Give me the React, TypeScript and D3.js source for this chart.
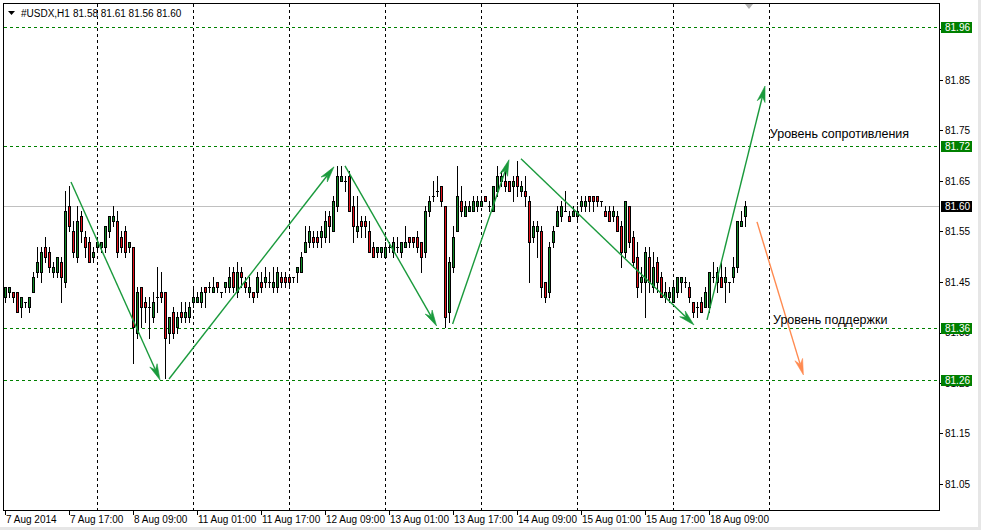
import React from 'react';
import * as d3 from 'd3';

const symbolLabel = '#USDX,H1';
const lastQuote = ['81.58', '81.61', '81.56', '81.60'];

const opens = [
  81.42, 81.43, 81.43, 81.43, 81.40, 81.41, 81.40, 81.43, 81.47, 81.47,
  81.52, 81.51, 81.47, 81.47, 81.49, 81.45, 81.60, 81.55, 81.50, 81.58,
  81.54, 81.53, 81.50, 81.52, 81.52, 81.52, 81.55, 81.57, 81.57, 81.54,
  81.55, 81.52, 81.52, 81.35, 81.44, 81.41, 81.40, 81.38, 81.42, 81.43,
  81.43, 81.35, 81.39, 81.36, 81.39, 81.38, 81.38, 81.41, 81.41, 81.41,
  81.44, 81.44, 81.43, 81.45, 81.43, 81.44, 81.44, 81.47, 81.43, 81.47,
  81.45, 81.43, 81.43, 81.43, 81.45, 81.45, 81.45, 81.44, 81.44, 81.46,
  81.46, 81.46, 81.46, 81.47, 81.47, 81.51, 81.53, 81.54, 81.54, 81.54,
  81.54, 81.58, 81.55, 81.60, 81.65, 81.65, 81.66, 81.60, 81.55, 81.57,
  81.57, 81.55, 81.52, 81.51, 81.51, 81.50, 81.52, 81.51, 81.52, 81.51,
  81.52, 81.54, 81.54, 81.54, 81.53, 81.51, 81.59, 81.62, 81.63, 81.64,
  81.60, 81.39, 81.48, 81.55, 81.61, 81.58, 81.59, 81.59, 81.60, 81.60,
  81.62, 81.60, 81.59, 81.63, 81.65, 81.65, 81.65, 81.64, 81.66, 81.63,
  81.63, 81.61, 81.54, 81.55, 81.55, 81.45, 81.43, 81.53, 81.56, 81.58,
  81.59, 81.58, 81.58, 81.58, 81.60, 81.60, 81.62, 81.62, 81.62, 81.61,
  81.59, 81.59, 81.58, 81.58, 81.56, 81.51, 81.60, 81.54, 81.50, 81.45,
  81.45, 81.50, 81.44, 81.49, 81.46, 81.42, 81.42, 81.41, 81.43, 81.45,
  81.45, 81.44, 81.41, 81.40, 81.41, 81.40, 81.40, 81.46, 81.45, 81.46,
  81.45, 81.45, 81.46, 81.48, 81.56, 81.58,
];
const highs = [
  81.44, 81.44, 81.43, 81.43, 81.42, 81.41, 81.42, 81.47, 81.52, 81.52,
  81.54, 81.52, 81.49, 81.50, 81.50, 81.63, 81.64, 81.57, 81.60, 81.59,
  81.55, 81.54, 81.52, 81.54, 81.53, 81.56, 81.58, 81.60, 81.59, 81.55,
  81.56, 81.53, 81.52, 81.44, 81.44, 81.42, 81.42, 81.43, 81.48, 81.47,
  81.43, 81.38, 81.40, 81.39, 81.41, 81.41, 81.41, 81.44, 81.43, 81.44,
  81.44, 81.45, 81.46, 81.45, 81.43, 81.45, 81.48, 81.48, 81.49, 81.48,
  81.46, 81.46, 81.43, 81.47, 81.47, 81.48, 81.47, 81.48, 81.48, 81.47,
  81.47, 81.46, 81.46, 81.48, 81.51, 81.56, 81.56, 81.55, 81.55, 81.56,
  81.59, 81.59, 81.62, 81.68, 81.68, 81.66, 81.67, 81.62, 81.62, 81.58,
  81.58, 81.57, 81.53, 81.52, 81.52, 81.53, 81.53, 81.54, 81.54, 81.53,
  81.56, 81.54, 81.54, 81.55, 81.53, 81.60, 81.62, 81.65, 81.66, 81.64,
  81.60, 81.50, 81.56, 81.68, 81.64, 81.61, 81.61, 81.62, 81.62, 81.62,
  81.62, 81.61, 81.64, 81.68, 81.67, 81.67, 81.65, 81.66, 81.69, 81.65,
  81.66, 81.62, 81.57, 81.57, 81.56, 81.45, 81.53, 81.56, 81.60, 81.61,
  81.63, 81.59, 81.60, 81.60, 81.62, 81.62, 81.62, 81.62, 81.62, 81.61,
  81.60, 81.60, 81.60, 81.59, 81.57, 81.61, 81.60, 81.55, 81.53, 81.48,
  81.52, 81.52, 81.51, 81.50, 81.47, 81.45, 81.44, 81.45, 81.46, 81.46,
  81.46, 81.45, 81.41, 81.41, 81.42, 81.44, 81.47, 81.49, 81.48, 81.49,
  81.48, 81.45, 81.50, 81.57, 81.59, 81.61,
];
const lows = [
  81.41, 81.42, 81.41, 81.39, 81.38, 81.40, 81.39, 81.43, 81.46, 81.45,
  81.49, 81.47, 81.46, 81.46, 81.41, 81.44, 81.55, 81.50, 81.49, 81.53,
  81.50, 81.49, 81.49, 81.51, 81.51, 81.51, 81.54, 81.56, 81.50, 81.51,
  81.50, 81.51, 81.29, 81.34, 81.36, 81.37, 81.34, 81.37, 81.39, 81.41,
  81.26, 81.33, 81.34, 81.35, 81.37, 81.37, 81.37, 81.40, 81.41, 81.40,
  81.40, 81.43, 81.43, 81.43, 81.42, 81.43, 81.43, 81.43, 81.42, 81.44,
  81.43, 81.42, 81.41, 81.42, 81.43, 81.44, 81.44, 81.43, 81.43, 81.44,
  81.44, 81.44, 81.45, 81.45, 81.47, 81.51, 81.52, 81.52, 81.52, 81.52,
  81.53, 81.53, 81.55, 81.59, 81.65, 81.63, 81.59, 81.53, 81.54, 81.54,
  81.54, 81.51, 81.50, 81.50, 81.50, 81.50, 81.51, 81.50, 81.51, 81.50,
  81.52, 81.52, 81.52, 81.51, 81.47, 81.50, 81.58, 81.61, 81.62, 81.60,
  81.36, 81.37, 81.47, 81.55, 81.58, 81.58, 81.59, 81.59, 81.59, 81.60,
  81.61, 81.59, 81.59, 81.62, 81.64, 81.63, 81.63, 81.61, 81.62, 81.62,
  81.60, 81.45, 81.53, 81.50, 81.42, 81.41, 81.42, 81.52, 81.56, 81.57,
  81.59, 81.57, 81.58, 81.57, 81.59, 81.59, 81.59, 81.59, 81.60, 81.60,
  81.58, 81.57, 81.57, 81.55, 81.48, 81.50, 81.52, 81.48, 81.42, 81.43,
  81.38, 81.43, 81.43, 81.43, 81.42, 81.41, 81.41, 81.41, 81.42, 81.43,
  81.44, 81.41, 81.38, 81.38, 81.39, 81.40, 81.39, 81.45, 81.43, 81.44,
  81.41, 81.43, 81.45, 81.47, 81.56, 81.56,
];
const closes = [
  81.44, 81.44, 81.42, 81.39, 81.42, 81.41, 81.42, 81.46, 81.49, 81.51,
  81.50, 81.48, 81.48, 81.50, 81.46, 81.59, 81.56, 81.51, 81.57, 81.55,
  81.52, 81.49, 81.51, 81.53, 81.53, 81.56, 81.58, 81.58, 81.51, 81.52,
  81.51, 81.53, 81.36, 81.43, 81.40, 81.40, 81.40, 81.41, 81.42, 81.42,
  81.34, 81.38, 81.35, 81.38, 81.38, 81.39, 81.40, 81.42, 81.42, 81.43,
  81.43, 81.44, 81.44, 81.44, 81.43, 81.45, 81.46, 81.44, 81.47, 81.46,
  81.44, 81.44, 81.42, 81.46, 81.44, 81.46, 81.45, 81.45, 81.47, 81.45,
  81.45, 81.45, 81.46, 81.48, 81.50, 81.53, 81.55, 81.53, 81.53, 81.55,
  81.57, 81.56, 81.61, 81.66, 81.66, 81.65, 81.59, 81.56, 81.56, 81.56,
  81.56, 81.51, 81.50, 81.52, 81.52, 81.52, 81.52, 81.53, 81.52, 81.53,
  81.53, 81.53, 81.53, 81.52, 81.50, 81.59, 81.61, 81.62, 81.63, 81.61,
  81.38, 81.49, 81.54, 81.62, 81.59, 81.60, 81.60, 81.61, 81.61, 81.61,
  81.61, 81.60, 81.64, 81.66, 81.66, 81.64, 81.63, 81.65, 81.64, 81.64,
  81.62, 81.53, 81.56, 81.56, 81.44, 81.42, 81.52, 81.55, 81.59, 81.60,
  81.59, 81.57, 81.59, 81.59, 81.61, 81.61, 81.61, 81.61, 81.61, 81.61,
  81.58, 81.57, 81.59, 81.55, 81.51, 81.61, 81.53, 81.49, 81.44, 81.46,
  81.51, 81.45, 81.48, 81.45, 81.42, 81.43, 81.43, 81.44, 81.46, 81.46,
  81.45, 81.42, 81.39, 81.40, 81.39, 81.43, 81.47, 81.46, 81.47, 81.44,
  81.46, 81.45, 81.48, 81.57, 81.57, 81.60,
];

const timeLabels = [
  '7 Aug 2014', '7 Aug 17:00', '8 Aug 09:00', '11 Aug 01:00', '11 Aug 17:00', '12 Aug 09:00',
  '13 Aug 01:00', '13 Aug 17:00', '14 Aug 09:00', '15 Aug 01:00', '15 Aug 17:00', '18 Aug 09:00',
];
const timeLabelBars = [0, 16, 32, 48, 64, 80, 96, 112, 128, 144, 160, 176];
const gridBars = [23, 47, 71, 95, 119, 143, 167, 191];
const priceTicks = [81.95, 81.85, 81.75, 81.65, 81.55, 81.45, 81.35, 81.25, 81.15, 81.05];
const priceTickLabels = ['81.95', '81.85', '81.75', '81.65', '81.55', '81.45', '81.35', '81.25', '81.15', '81.05'];
const levelPrices = [81.954, 81.719, 81.359, 81.255];
const levelLabels = ['81.96', '81.72', '81.36', '81.26'];
const bidPrice = 81.6;
const bidLabel = '81.60';

// arrows: [startBar, startPrice, endBar, endPrice]
const greenArrows = [
  [16.5, 81.648, 38.75, 81.256],
  [41.0, 81.258, 82.25, 81.678],
  [85.0, 81.68, 107.9, 81.363],
  [111.9, 81.367, 126.0, 81.692],
  [129.0, 81.694, 172.25, 81.365],
  [175.5, 81.375, 190.0, 81.838],
];
const orangeArrows = [[188.0, 81.569, 199.6, 81.266]];

const annotations = [
  { text: 'Уровень сопротивления', bar: 191.2, price: 81.735 },
  { text: 'Уровень поддержки', bar: 192.0, price: 81.366 },
];

const FONT = '"Liberation Sans", Arial, sans-serif';

function arrowPaths(x0: number, y0: number, x1: number, y1: number) {
  const dx = x1 - x0, dy = y1 - y0;
  const len = Math.hypot(dx, dy);
  const ux = dx / len, uy = dy / len;
  const nx = -uy, ny = ux;
  const L = 16, w = 4, N = 11;
  const bx = x1 - ux * L, by = y1 - uy * L;
  const mx = x1 - ux * N, my = y1 - uy * N;
  const head = `M${x1},${y1}L${bx + nx * w},${by + ny * w}L${mx},${my}L${bx - nx * w},${by - ny * w}Z`;
  const line = `M${x0},${y0}L${mx},${my}`;
  return { head, line };
}

export default function App() {
  const W = 981, H = 530;
  const plotL = 3.5, plotT = 3.5, plotR = 939.5, plotB = 510.5;
  const x = d3.scaleLinear().domain([0, 233]).range([5, 937]);
  const y = d3.scaleLinear().domain([81.05, 81.85]).range([484, 80]);

  const candles = d3.range(opens.length).map((i) => ({
    o: opens[i], h: highs[i], l: lows[i], c: closes[i], i,
  }));

  const green = '#1a9a3c';
  const orange = '#ff8a50';
  const levelColor = '#008000';

  return (
    <svg
      width={W}
      height={H}
      viewBox={`0 0 ${W} ${H}`}
      style={{ position: 'absolute', left: 0, top: 0, background: '#fff' }}
      fontFamily={FONT}
    >
      <rect x={0} y={0} width={W} height={H} fill="#fff" />
      <rect x={978} y={0} width={3} height={H} fill="#e6e6e6" />
      <rect x={0} y={527} width={W} height={3} fill="#e6e6e6" />

      {/* vertical grid */}
      <g shapeRendering="crispEdges">
        {gridBars.map((b) => (
          <line key={b} x1={Math.round(x(b)) + 0.5} x2={Math.round(x(b)) + 0.5} y1={plotT} y2={plotB}
            stroke="#000" strokeDasharray="3,3" strokeWidth={1} />
        ))}
      </g>

      {/* level lines */}
      <g shapeRendering="crispEdges">
        {levelPrices.map((p, k) => (
          <line key={k} x1={plotL} x2={plotR} y1={Math.round(y(p)) + 0.5} y2={Math.round(y(p)) + 0.5}
            stroke={levelColor} strokeDasharray="3,3" strokeWidth={1} />
        ))}
        <line x1={plotL} x2={plotR} y1={Math.round(y(bidPrice)) + 0.5} y2={Math.round(y(bidPrice)) + 0.5}
          stroke="#c0c0c0" strokeWidth={1} />
      </g>

      {/* candles */}
      <g shapeRendering="crispEdges">
        {candles.map((d) => {
          const cx = Math.round(x(d.i));
          const top = Math.round(y(Math.max(d.o, d.c)));
          const bot = Math.round(y(Math.min(d.o, d.c)));
          const hy = Math.round(y(d.h));
          const ly = Math.round(y(d.l));
          const fill = d.c > d.o ? '#128a26' : d.c < d.o ? '#e3121a' : '#000';
          return (
            <g key={d.i}>
              <rect x={cx} y={hy} width={1} height={ly - hy + 1} fill="#000" />
              <rect x={cx - 1} y={top} width={3} height={bot - top + 1} fill="#000" />
              {bot - top - 1 > 0 && (
                <rect x={cx} y={top + 1} width={1} height={bot - top - 1} fill={fill} />
              )}
            </g>
          );
        })}
      </g>

      {/* arrows */}
      <g>
        {greenArrows.map((a, k) => {
          const p = arrowPaths(x(a[0]), y(a[1]), x(a[2]), y(a[3]));
          return (
            <g key={k}>
              <path d={p.line} stroke={green} strokeWidth={1.4} fill="none" />
              <path d={p.head} fill={green} stroke={green} strokeWidth={0.6} />
            </g>
          );
        })}
        {orangeArrows.map((a, k) => {
          const p = arrowPaths(x(a[0]), y(a[1]), x(a[2]), y(a[3]));
          return (
            <g key={k}>
              <path d={p.line} stroke={orange} strokeWidth={1.4} fill="none" />
              <path d={p.head} fill={orange} stroke={orange} strokeWidth={0.6} />
            </g>
          );
        })}
      </g>

      {/* annotations */}
      {annotations.map((a, k) => (
        <text key={k} x={x(a.bar)} y={y(a.price)} fontSize={12.5} fill="#000">{a.text}</text>
      ))}

      {/* frame */}
      <rect x={plotL} y={plotT} width={plotR - plotL} height={plotB - plotT} fill="none" stroke="#000"
        strokeWidth={1} shapeRendering="crispEdges" />

      {/* shift marker */}
      <path d="M745,4L753,4L749,9Z" fill="#b0b0b0" />

      {/* header */}
      <path d="M8,11L15,11L11.5,15Z" fill="#000" />
      <text x={21} y={16.5} fontSize={10} fill="#000">{symbolLabel}</text>
      <text x={73} y={16.5} fontSize={10} fill="#000">{lastQuote.join(' ')}</text>

      {/* price axis */}
      <g fontSize={10} fill="#000">
        {priceTicks.map((p, k) => (
          <g key={k}>
            <line x1={940} x2={943} y1={Math.round(y(p)) + 0.5} y2={Math.round(y(p)) + 0.5} stroke="#000"
              shapeRendering="crispEdges" />
            <text x={945} y={y(p) + 3.5}>{priceTickLabels[k]}</text>
          </g>
        ))}
      </g>
      {levelPrices.map((p, k) => (
        <g key={k}>
          <rect x={941} y={Math.round(y(p)) - 5} width={31} height={11} fill={levelColor} shapeRendering="crispEdges" />
          <text x={945} y={Math.round(y(p)) + 4} fontSize={10} fill="#fff">{levelLabels[k]}</text>
        </g>
      ))}
      <rect x={941} y={Math.round(y(bidPrice)) - 5} width={31} height={11} fill="#000" shapeRendering="crispEdges" />
      <text x={945} y={Math.round(y(bidPrice)) + 4} fontSize={10} fill="#fff">{bidLabel}</text>

      {/* time axis */}
      <g fontSize={10} fill="#000">
        {timeLabelBars.map((b, k) => (
          <g key={k}>
            <line x1={Math.round(x(b)) + 0.5} x2={Math.round(x(b)) + 0.5} y1={510} y2={515} stroke="#000"
              shapeRendering="crispEdges" />
            <text x={Math.round(x(b)) + 1} y={523}>{timeLabels[k]}</text>
          </g>
        ))}
      </g>
    </svg>
  );
}
